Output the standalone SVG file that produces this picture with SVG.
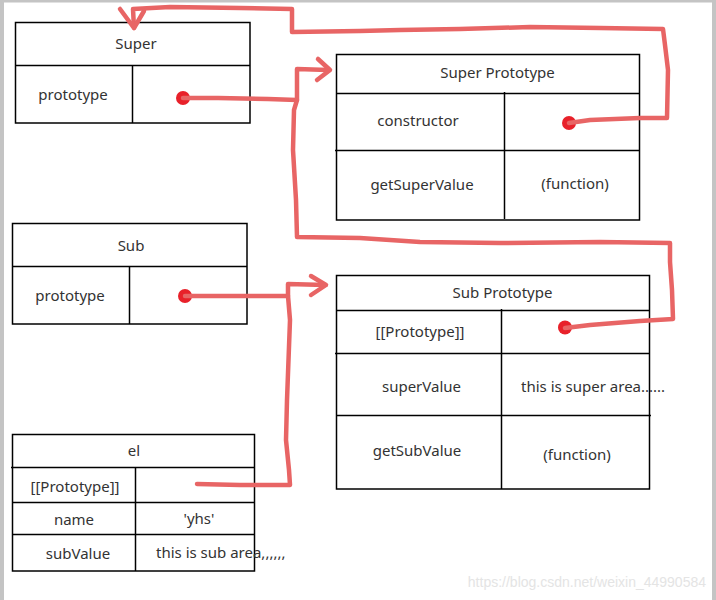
<svg xmlns="http://www.w3.org/2000/svg" width="716" height="600" viewBox="0 0 716 600">
<style>
.box{fill:none;stroke:#000;stroke-width:1.5}
.ln{stroke:#000;stroke-width:1.5}
text{font-family:"Noto Sans","Open Sans",sans-serif;font-size:15px;fill:#333;text-anchor:middle;dominant-baseline:central}
.l{text-anchor:start}
.red{fill:none;stroke:#e86565;stroke-width:4.5;stroke-linejoin:round;stroke-linecap:round}
.dot{fill:#e8212a}
.wm{font-family:"Liberation Sans",Arial,sans-serif;font-size:14px;fill:#e4e4e4;text-anchor:end}
</style>
<rect x="0" y="0" width="716" height="600" fill="#fff"/>
<rect x="0" y="0" width="4" height="600" fill="#c4c4c4"/>
<rect x="0" y="0" width="716" height="2.5" fill="#c4c4c4"/>
<rect x="712" y="0" width="4" height="600" fill="#c4c4c4"/>

<g id="super">
<rect class="box" x="15.5" y="22.5" width="234.5" height="100.5"/>
<line class="ln" x1="15.5" y1="65.5" x2="250" y2="65.5"/>
<line class="ln" x1="132.5" y1="65.5" x2="132.5" y2="123"/>
<text x="136" y="43">Super</text>
<text x="73" y="94">prototype</text>
<circle class="dot" cx="183" cy="98" r="7"/>
</g>

<g id="super-prototype">
<rect class="box" x="336.5" y="54.5" width="303" height="165.5"/>
<line class="ln" x1="336.5" y1="93.5" x2="639.5" y2="93.5"/>
<line class="ln" x1="335" y1="150.5" x2="639.5" y2="150.5"/>
<line class="ln" x1="504.5" y1="92" x2="504.5" y2="219"/>
<text x="497.5" y="72">Super Prototype</text>
<text x="418" y="120">constructor</text>
<text x="422" y="184">getSuperValue</text>
<text x="575" y="183">(function)</text>
<circle class="dot" cx="569" cy="123" r="7"/>
</g>

<g id="sub">
<rect class="box" x="12.5" y="223.5" width="234.5" height="100.5"/>
<line class="ln" x1="12.5" y1="266.5" x2="247" y2="266.5"/>
<line class="ln" x1="129.5" y1="266.5" x2="129.5" y2="324"/>
<text x="131" y="245">Sub</text>
<text x="70" y="295">prototype</text>
<circle class="dot" cx="185" cy="296" r="7"/>
</g>

<g id="sub-prototype">
<rect class="box" x="336.5" y="275.5" width="313" height="213.5"/>
<line class="ln" x1="336.5" y1="310.5" x2="649.5" y2="310.5"/>
<line class="ln" x1="335" y1="353.5" x2="649.5" y2="353.5"/>
<line class="ln" x1="336.5" y1="415.5" x2="651" y2="415.5"/>
<line class="ln" x1="501.5" y1="309" x2="501.5" y2="489"/>
<text x="502.5" y="292">Sub Prototype</text>
<text x="420" y="331">[[Prototype]]</text>
<text x="421.5" y="386">superValue</text>
<text class="l" x="521" y="386">this is super area......</text>
<text x="417" y="450">getSubValue</text>
<text x="577" y="454">(function)</text>
<circle class="dot" cx="565" cy="327.5" r="7"/>
</g>

<g id="el">
<rect class="box" x="12.5" y="434.5" width="242" height="136.5"/>
<line class="ln" x1="11" y1="467.5" x2="254.5" y2="467.5"/>
<line class="ln" x1="12.5" y1="502.5" x2="254.5" y2="502.5"/>
<line class="ln" x1="12.5" y1="534.5" x2="254.5" y2="534.5"/>
<line class="ln" x1="135.5" y1="467.5" x2="135.5" y2="571"/>
<text x="134" y="450">el</text>
<text x="75" y="486">[[Prototype]]</text>
<text x="74" y="519">name</text>
<text x="199" y="518">'yhs'</text>
<text x="78" y="553">subValue</text>
<text class="l" x="156" y="552">this is sub area,,,,,,</text>
</g>

<g id="connectors">
<path class="red" d="M183 98 L218 98 L268 99 L297 100"/>
<path class="red" d="M565 328 L590 325 L640 321 L673 319 L672 290 L670 262 L670 243 L600 242 L500 243 L420 242 L360 238 L297 237 L296 200 L293 150 L294 110 L297 100 L297 69 L328 70"/>
<path class="red" d="M318 59 L330 70 L317 80"/>
<path class="red" d="M569 123 L590 120 L640 118 L667 118 L668 70 L665 45 L663 29 L600 28 L530 27 L460 29 L400 30 L360 31 L292 32 L292 9 L240 8 L170 7 L133 9 L134 28"/>
<path class="red" d="M120 9 L134 28 L144 11"/>
<path class="red" d="M185 296 L288 296 L288 284 L325 285"/>
<path class="red" d="M311 276 L326 285 L311 295"/>
<path class="red" d="M288 296 L290 320 L287 400 L286 440 L289 470 L290 485 L240 485 L197 484"/>
</g>

<text class="wm" x="706" y="582">https://blog.csdn.net/weixin_44990584</text>
</svg>
